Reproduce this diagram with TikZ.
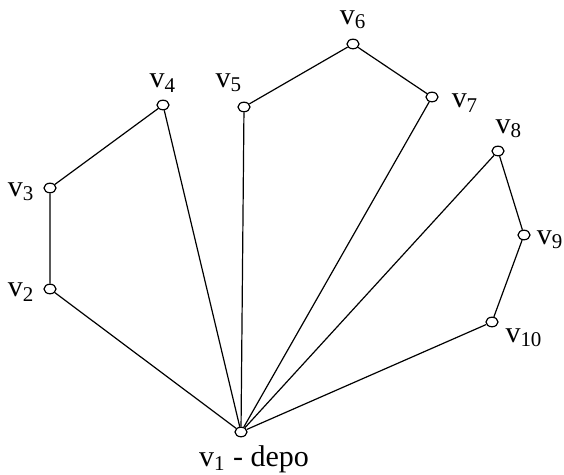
\documentclass[tikz,border=0pt]{standalone}
\usepackage{fontspec}
\setmainfont{Liberation Serif}
\usetikzlibrary{shapes.geometric}

\tikzset{
  vtx/.style={draw,ellipse,inner sep=0pt,minimum width=6pt,minimum height=4.8pt,fill=white},
  lbl/.style={font=\fontsize{15}{18}\selectfont,inner sep=0pt}
}

\begin{document}
\begin{tikzpicture}[x=0.5pt,y=-0.5pt,line width=0.6pt]
    \useasboundingbox (0,0) rectangle (564,475);
    % vertices
    \node[vtx] (v1) at (241,432) {};
    \node[vtx] (v2) at (50,289) {};
    \node[vtx] (v3) at (50,188) {};
    \node[vtx] (v4) at (163,105) {};
    \node[vtx] (v5) at (244,107) {};
    \node[vtx] (v6) at (353,44) {};
    \node[vtx] (v7) at (432,97) {};
    \node[vtx] (v8) at (498,151) {};
    \node[vtx] (v9) at (524,235) {};
    \node[vtx] (v10) at (492,322) {};
    % routes
    \draw (v1) -- (v2) -- (v3) -- (v4) -- (v1);
    \draw (v1) -- (v5) -- (v6) -- (v7) -- (v1);
    \draw (v1) -- (v8) -- (v9) -- (v10) -- (v1);
    % labels
    \node[lbl] (l1) at (254,459) {v\textsubscript{1} - depo};
    \node[lbl] (l2) at (21,292) {v\textsubscript{2}};
    \node[lbl] (l3) at (21,192) {v\textsubscript{3}};
    \node[lbl] (l4) at (163,83) {v\textsubscript{4}};
    \node[lbl] (l5) at (229,83) {v\textsubscript{5}};
    \node[lbl] (l6) at (353,20) {v\textsubscript{6}};
    \node[lbl] (l7) at (465,103) {v\textsubscript{7}};
    \node[lbl] (l8) at (509,129) {v\textsubscript{8}};
    \node[lbl] (l9) at (550,240) {v\textsubscript{9}};
    \node[lbl] (l10) at (524,338) {v\textsubscript{10}};
\end{tikzpicture}
\end{document}
